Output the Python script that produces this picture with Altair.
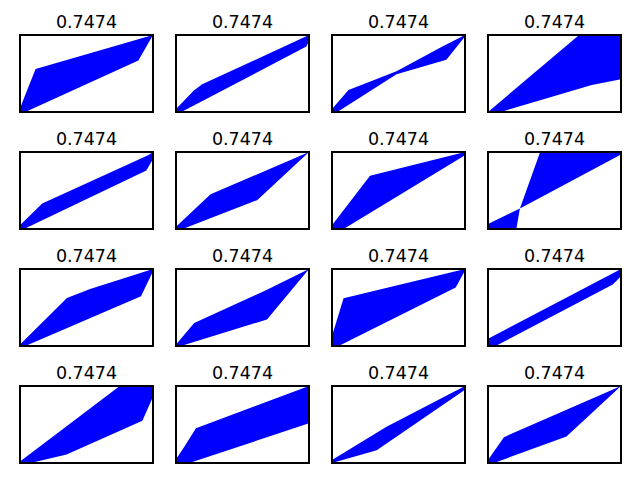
import altair as alt
import pandas as pd

titles = ["0.7474"] * 16

# upper boundary of the blue band in each panel (normalised 0..1 coords)
upper_x = [
    [0, 0.117, 1],
    [0, 0.134, 0.197, 1],
    [0, 0.124, 0.485, 0.83, 1],
    [0, 0.685, 1],
    [0, 0.167, 0.963, 1],
    [0, 0.26, 1],
    [0, 0.286, 1],
    [0, 0.24, 0.392, 1],
    [0, 0.353, 0.527, 1],
    [0, 0.137, 0.684, 1],
    [0, 0.087, 1],
    [0, 1],
    [0, 0.75, 1],
    [0, 0.0625, 0.15, 1],
    [0, 0.41, 1],
    [0, 0.12, 1],
]
upper_y = [
    [0.05, 0.56, 1],
    [0.04, 0.28, 0.36, 1],
    [0.04, 0.285, 0.53, 0.85, 1],
    [0, 1, 1],
    [0.05, 0.33, 0.957, 1],
    [0.03, 0.45, 1],
    [0.05, 0.69, 1],
    [0.065, 0.267, 1, 1],
    [0.02, 0.625, 0.74, 1],
    [0.02, 0.30, 0.73, 1],
    [0.13, 0.62, 1],
    [0.095, 1],
    [0.02, 1, 1],
    [0.05, 0.21, 0.45, 1],
    [0.04, 0.47, 1],
    [0.04, 0.336, 1],
]
# lower boundary of the blue band in each panel
lower_x = [
    [0, 0.04, 0.89, 1],
    [0, 0.04, 0.98, 1],
    [0, 0.04, 0.485, 0.86, 1],
    [0, 0.094, 0.78, 1],
    [0, 0.03, 0.95, 1],
    [0, 0.05, 0.61, 1],
    [0, 0.087, 1],
    [0, 0.213, 0.24, 1],
    [0, 0.04, 0.91, 1],
    [0, 0.037, 0.684, 1],
    [0, 0.05, 0.93, 1],
    [0, 0.057, 0.938, 1],
    [0, 0.08, 0.35, 0.92, 1],
    [0, 0.1, 1],
    [0, 0.336, 1],
    [0, 0.045, 0.59, 1],
]
lower_y = [
    [0, 0, 0.67, 1],
    [0, 0, 0.85, 0.92],
    [0, 0, 0.49, 0.68, 0.98],
    [0, 0, 0.35, 0.425],
    [0, 0, 0.76, 0.91],
    [0, 0, 0.375, 1],
    [0, 0, 0.957],
    [0, 0, 0.267, 0.966],
    [0, 0, 0.647, 0.97],
    [0, 0, 0.345, 1],
    [0, 0, 0.76, 0.98],
    [0, 0, 0.80, 0.905],
    [0, 0, 0.11, 0.55, 0.86],
    [0, 0, 0.515],
    [0, 0.164, 0.95],
    [0, 0, 0.345, 1],
]

rows = []
for i in range(16):
    for x, y in zip(upper_x[i], upper_y[i]):
        rows.append({"panel": i, "edge": "upper", "x": x, "y": y})
    for x, y in zip(lower_x[i], lower_y[i]):
        rows.append({"panel": i, "edge": "lower", "x": x, "y": y})
df = pd.DataFrame(rows)

W, H = 133, 77
xs = alt.X("x:Q", scale=alt.Scale(domain=[0, 1], nice=False, zero=False), axis=None)
ys = alt.Y("y:Q", scale=alt.Scale(domain=[0, 1], nice=False, zero=False), axis=None, stack=None)


def panel(i):
    base = alt.Chart(df).transform_filter(alt.datum.panel == i)
    up = base.transform_filter(alt.datum.edge == "upper").mark_area(
        color="#0000ff", clip=True, interpolate="linear", opacity=1
    ).encode(x=xs, y=ys)
    low = base.transform_filter(alt.datum.edge == "lower").mark_area(
        color="#ffffff", clip=True, interpolate="linear", opacity=1
    ).encode(x=xs, y=ys)
    frame = alt.Chart(df).mark_rect(filled=False, color="black", strokeWidth=1.1).encode(
        x=alt.value(0), x2=alt.value(W), y=alt.value(0), y2=alt.value(H)
    )
    return alt.layer(up, low, frame).properties(
        width=W, height=H, title=alt.TitleParams(titles[i])
    )


grid = [alt.hconcat(*[panel(r * 4 + c) for c in range(4)], spacing=21) for r in range(4)]
chart = (
    alt.vconcat(*grid, spacing=17)
    .properties(padding={"left": 19, "top": 13, "right": 5, "bottom": 5}, background="white")
    .configure_view(strokeWidth=0)
    .configure_title(
        font="DejaVu Sans",
        fontSize=17.5,
        fontWeight="normal",
        color="black",
        offset=3,
        baseline="alphabetic",
        anchor="middle",
    )
)

chart.save("out.html", embed_options={"renderer": "svg", "actions": False})
